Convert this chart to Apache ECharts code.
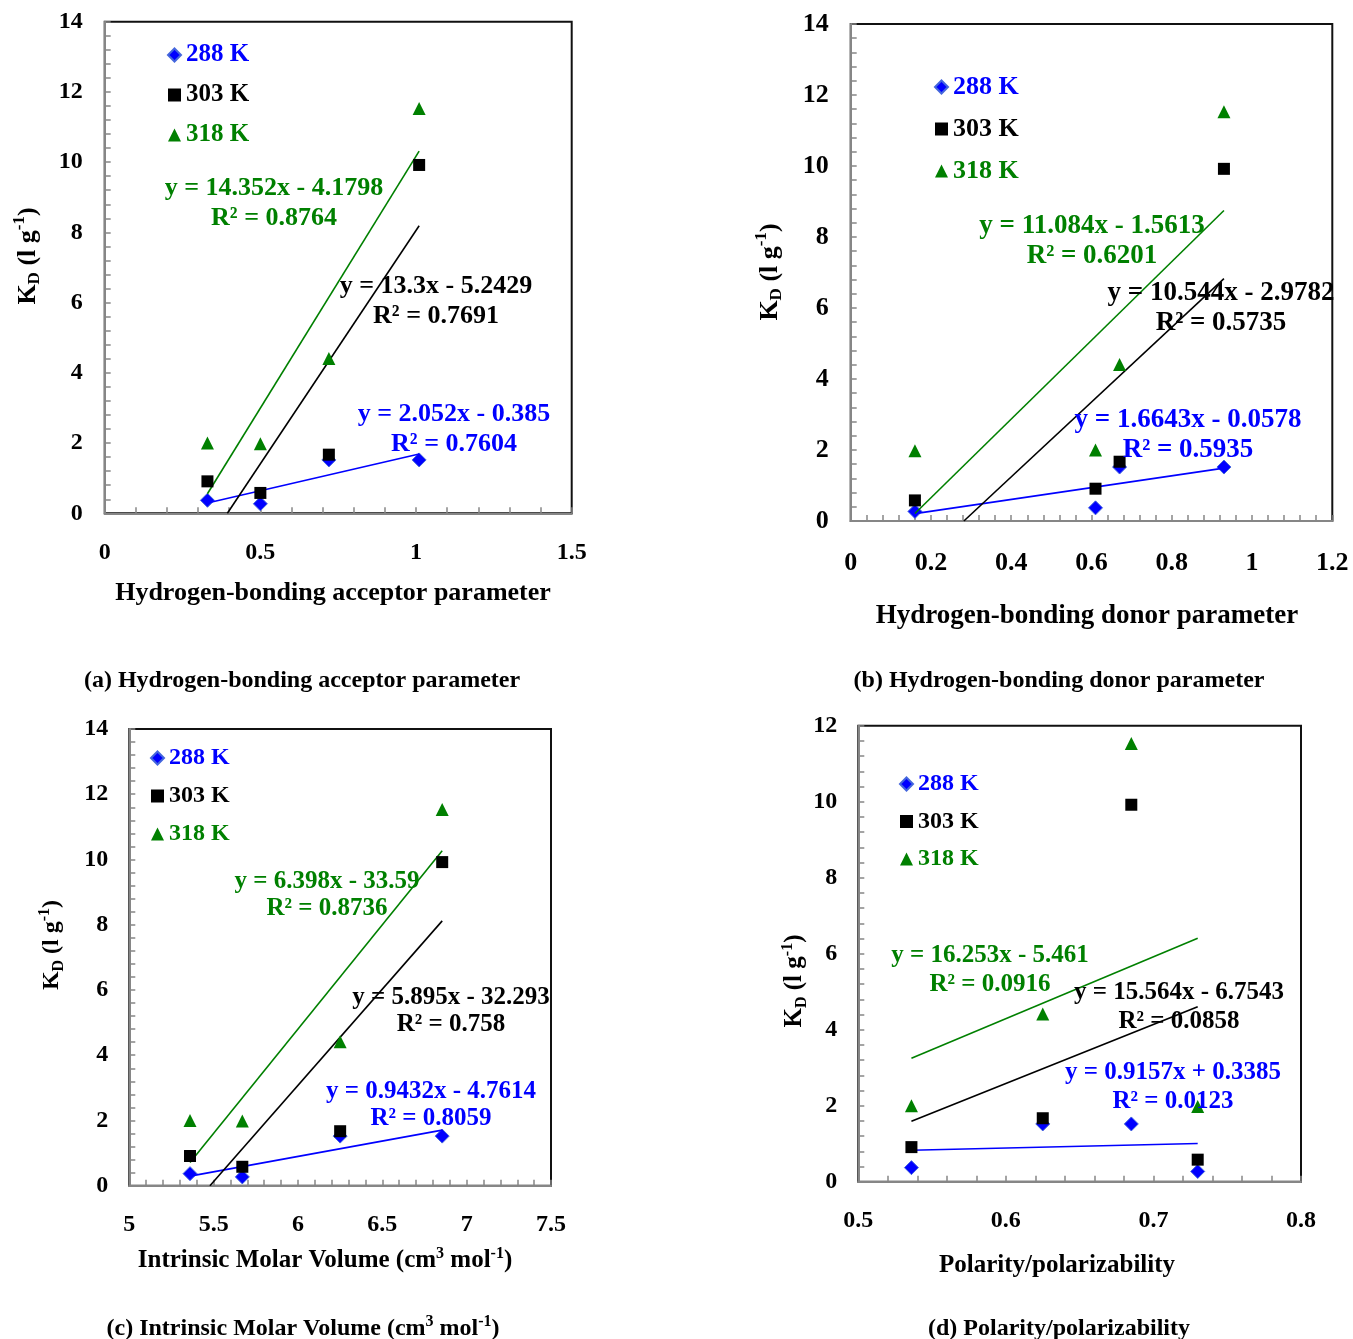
<!DOCTYPE html>
<html><head><meta charset="utf-8">
<script src="https://cdn.jsdelivr.net/npm/echarts@6/dist/echarts.min.js"></script>
<style>html,body{margin:0;padding:0;background:#fff}#c{width:1353px;height:1339px}</style>
</head><body><div id="c"></div>
<script>
// ---------------- DATA ----------------
const seriesNames = ['288 K', '303 K', '318 K'];
// KD (l g-1) for the four solvents (same order in every x array)
const kd288 = [0.37, 0.27, 1.52, 1.52];
const kd303 = [0.91, 0.58, 1.67, 9.92];
const kd318 = [2.00, 1.98, 4.41, 11.53];
// solvent parameters
const xAcceptor = [0.33, 0.50, 0.72, 1.01];
const xDonor = [0.61, 0.16, 0.67, 0.93];
const xMolarVolume = [5.36, 5.67, 6.25, 6.855];
const xPolarity = [0.536, 0.730, 0.625, 0.685];
// linear trend lines (end points)
const trendAcceptor288 = [[0.33, 0.292], [1.01, 1.688]];
const trendAcceptor303 = [[0.394, 0], [1.01, 8.190]];
const trendAcceptor318 = [[0.33, 0.556], [1.01, 10.316]];
const trendDonor288 = [[0.16, 0.208], [0.93, 1.490]];
const trendDonor303 = [[0.282, 0], [0.93, 6.828]];
const trendDonor318 = [[0.16, 0.212], [0.93, 8.747]];
const trendVolume288 = [[5.36, 0.294], [6.855, 1.704]];
const trendVolume303 = [[5.478, 0], [6.855, 8.118]];
const trendVolume318 = [[5.36, 0.713], [6.855, 10.268]];
const trendPolarity288 = [[0.536, 0.829], [0.730, 1.007]];
const trendPolarity303 = [[0.536, 1.588], [0.730, 4.607]];
const trendPolarity318 = [[0.536, 3.251], [0.730, 6.404]];
// trend line equations
const eqAcceptor = ['y = 2.052x - 0.385\nR² = 0.7604', 'y = 13.3x - 5.2429\nR² = 0.7691', 'y = 14.352x - 4.1798\nR² = 0.8764'];
const eqDonor = ['y = 1.6643x - 0.0578\nR² = 0.5935', 'y = 10.544x - 2.9782\nR² = 0.5735', 'y = 11.084x - 1.5613\nR² = 0.6201'];
const eqVolume = ['y = 0.9432x - 4.7614\nR² = 0.8059', 'y = 5.895x - 32.293\nR² = 0.758', 'y = 6.398x - 33.59\nR² = 0.8736'];
const eqPolarity = ['y = 0.9157x + 0.3385\nR² = 0.0123', 'y = 15.564x - 6.7543\nR² = 0.0858', 'y = 16.253x - 5.461\nR² = 0.0916'];
// axis ticks
const xTicksAcceptor = [0, 0.5, 1, 1.5];
const xTicksDonor = [0, 0.2, 0.4, 0.6, 0.8, 1, 1.2];
const xTicksVolume = [5, 5.5, 6, 6.5, 7, 7.5];
const xTicksPolarity = [0.5, 0.6, 0.7, 0.8];
const yTicks14 = [0, 2, 4, 6, 8, 10, 12, 14];
const yTicks12 = [0, 2, 4, 6, 8, 10, 12];
// texts
const yTitleRich = '{n|K}{s|D}{n| (l g}{p|-1}{n|)}';
const xTitles = ['Hydrogen-bonding acceptor parameter', 'Hydrogen-bonding donor parameter',
  '{n|Intrinsic Molar Volume (cm}{p|3}{n| mol}{p|-1}{n|)}', 'Polarity/polarizability'];
const captions = ['(a) Hydrogen-bonding acceptor parameter', '(b) Hydrogen-bonding donor parameter',
  '{n|(c) Intrinsic Molar Volume (cm}{p|3}{n| mol}{p|-1}{n|)}', '(d) Polarity/polarizability'];

// ---------------- STYLE / LAYOUT ----------------
const FONT = '"Liberation Serif", "Times New Roman", serif';
const COLORS = ['#0000FF', '#000000', '#008000'];
const SYMBOLS = ['diamond', 'rect', 'triangle'];
const SIZES = [14, 12, 13];
const kdSets = [kd288, kd303, kd318];
const AXIS_GRAY = '#868686';

const panels = [
  { x: xAcceptor, trends: [trendAcceptor288, trendAcceptor303, trendAcceptor318], eq: eqAcceptor,
    xt: xTicksAcceptor, yt: yTicks14, grid: { left: 104.7, top: 21.7, width: 467, height: 491.6 },
    tickFont: 24, xMargin: 27, yMargin: 22,
    eqFont: 26, eqLH: 30, eqPos: [[454, 429], [436, 301], [274, 203]],
    legend: { left: 167, top: 42.5, font: 25, gap: 15 },
    yTitle: { x: 28, y: 256, font: 26 }, xTitle: { x: 333, y: 593, font: 26 }, caption: { x: 302, y: 681, font: 24 } },
  { x: xDonor, trends: [trendDonor288, trendDonor303, trendDonor318], eq: eqDonor,
    xt: xTicksDonor, yt: yTicks14, grid: { left: 850.7, top: 24, width: 481.6, height: 497 },
    tickFont: 26, xMargin: 29, yMargin: 22,
    eqFont: 27, eqLH: 30.5, eqPos: [[1188, 435], [1221, 308], [1092, 241]],
    legend: { left: 934, top: 74, font: 26, gap: 16 },
    yTitle: { x: 770, y: 272, font: 26 }, xTitle: { x: 1087, y: 616, font: 27 }, caption: { x: 1059, y: 681, font: 24 } },
  { x: xMolarVolume, trends: [trendVolume288, trendVolume303, trendVolume318], eq: eqVolume,
    xt: xTicksVolume, yt: yTicks14, grid: { left: 129.3, top: 729, width: 421.7, height: 456.7 },
    tickFont: 24, xMargin: 27, yMargin: 21,
    eqFont: 25, eqLH: 27.5, eqPos: [[431, 1105], [451, 1011], [327, 895]],
    legend: { left: 150, top: 746, font: 24, gap: 14 },
    yTitle: { x: 52, y: 945, font: 24 }, xTitle: { x: 325, y: 1261, font: 25 }, caption: { x: 303, y: 1329, font: 24 } },
  { x: xPolarity, trends: [trendPolarity288, trendPolarity303, trendPolarity318], eq: eqPolarity,
    xt: xTicksPolarity, yt: yTicks12, grid: { left: 858.3, top: 725.7, width: 442.7, height: 456 },
    tickFont: 24, xMargin: 27, yMargin: 21,
    eqFont: 25, eqLH: 28.5, eqPos: [[1173, 1087], [1179, 1007], [990, 970]],
    legend: { left: 899, top: 772, font: 24, gap: 13.5 },
    yTitle: { x: 795, y: 981, font: 25 }, xTitle: { x: 1057, y: 1266, font: 25 }, caption: { x: 1059, y: 1329, font: 24 } }
];

function rng(t) { return { min: t[0], max: t[t.length - 1], interval: +(t[1] - t[0]).toFixed(6) }; }

const option = { animation: false, backgroundColor: '#fff', grid: [], xAxis: [], yAxis: [], legend: [], series: [], graphic: [] };

panels.forEach((p, i) => {
  option.grid.push(Object.assign({ show: true, borderColor: '#111', borderWidth: 2, backgroundColor: 'transparent',
    containLabel: false, outerBoundsMode: 'none' }, p.grid));
  const xr = rng(p.xt), yr = rng(p.yt);
  const lbl = { show: true, fontFamily: FONT, fontWeight: 'bold', fontSize: p.tickFont, color: '#000' };
  option.xAxis.push(Object.assign({ type: 'value', gridIndex: i, position: 'bottom', splitLine: { show: false },
    axisLine: { show: true, onZero: false, lineStyle: { color: AXIS_GRAY, width: 2 } },
    axisTick: { show: true, inside: true, length: 6, lineStyle: { color: AXIS_GRAY, width: 1.5 } },
    minorTick: { show: true, splitNumber: 5, length: 6, lineStyle: { color: AXIS_GRAY, width: 1.5 } },
    axisLabel: Object.assign({ margin: p.xMargin }, lbl) }, xr));
  option.yAxis.push(Object.assign({ type: 'value', gridIndex: i, position: 'left', splitLine: { show: false },
    axisLine: { show: true, onZero: false, lineStyle: { color: AXIS_GRAY, width: 2 } },
    axisTick: { show: true, inside: true, length: 6, lineStyle: { color: AXIS_GRAY, width: 1.5 } },
    minorTick: { show: true, splitNumber: 5, length: 6, lineStyle: { color: AXIS_GRAY, width: 1.5 } },
    axisLabel: Object.assign({ margin: p.yMargin }, lbl) }, yr));

  // trend lines
  p.trends.forEach((t, k) => {
    option.series.push({ type: 'line', name: 'trend' + i + k, xAxisIndex: i, yAxisIndex: i, data: t,
      showSymbol: false, symbol: 'none', silent: true, z: 3,
      lineStyle: { color: COLORS[k], width: 1.6 } });
  });
  // scatter points
  kdSets.forEach((kd, k) => {
    option.series.push({ type: 'scatter', name: seriesNames[k], xAxisIndex: i, yAxisIndex: i,
      data: p.x.map((xv, j) => [xv, kd[j]]), symbol: SYMBOLS[k], symbolSize: SIZES[k], z: 2 + k,
      itemStyle: { color: COLORS[k], opacity: 1, borderColor: k === 0 ? '#4466dd' : COLORS[k], borderWidth: k === 0 ? 1 : 0 } });
  });
  // legend
  option.legend.push({ orient: 'vertical', left: p.legend.left, top: p.legend.top, itemGap: p.legend.gap,
    itemWidth: 13, itemHeight: 13, selectedMode: false, padding: 0,
    textStyle: { fontFamily: FONT, fontWeight: 'bold', fontSize: p.legend.font, lineHeight: p.legend.font },
    data: seriesNames.map((n, k) => ({ name: n, textStyle: { color: COLORS[k] } })) });
  // equations
  p.eq.forEach((txt, k) => {
    option.graphic.push({ type: 'text', x: p.eqPos[k][0], y: p.eqPos[k][1], z: 100,
      style: { text: txt, fill: COLORS[k], align: 'center', verticalAlign: 'middle',
        font: 'bold ' + p.eqFont + 'px ' + FONT, lineHeight: p.eqLH } });
  });
  // y title
  const yf = p.yTitle.font, ys = Math.round(yf * 0.65);
  option.graphic.push({ type: 'text', x: p.yTitle.x, y: p.yTitle.y, rotation: Math.PI / 2, z: 100,
    style: { text: yTitleRich, fill: '#000', align: 'center', verticalAlign: 'middle',
      font: 'bold ' + yf + 'px ' + FONT,
      rich: {
        n: { font: 'bold ' + yf + 'px ' + FONT, fontSize: yf, fontWeight: 'bold', fontFamily: FONT },
        s: { font: 'bold ' + ys + 'px ' + FONT, fontSize: ys, fontWeight: 'bold', fontFamily: FONT, padding: [Math.round(yf * 0.55), 0, 0, 0] },
        p: { font: 'bold ' + ys + 'px ' + FONT, fontSize: ys, fontWeight: 'bold', fontFamily: FONT, padding: [0, 0, Math.round(yf * 0.6), 0] }
      } } });
  // x title & caption
  [[xTitles[i], p.xTitle], [captions[i], p.caption]].forEach(([txt, pos]) => {
    const f = pos.font, fs = Math.round(f * 0.65);
    option.graphic.push({ type: 'text', x: pos.x, y: pos.y, z: 100,
      style: { text: txt, fill: '#000', align: 'center', verticalAlign: 'middle', font: 'bold ' + f + 'px ' + FONT,
        rich: {
          n: { font: 'bold ' + f + 'px ' + FONT, fontSize: f, fontWeight: 'bold', fontFamily: FONT },
          p: { font: 'bold ' + fs + 'px ' + FONT, fontSize: fs, fontWeight: 'bold', fontFamily: FONT, padding: [0, 0, Math.round(f * 0.6), 0] }
        } } });
  });
});

const chart = echarts.init(document.getElementById('c'), null, { renderer: 'canvas' });
chart.setOption(option);
</script>
</body></html>
